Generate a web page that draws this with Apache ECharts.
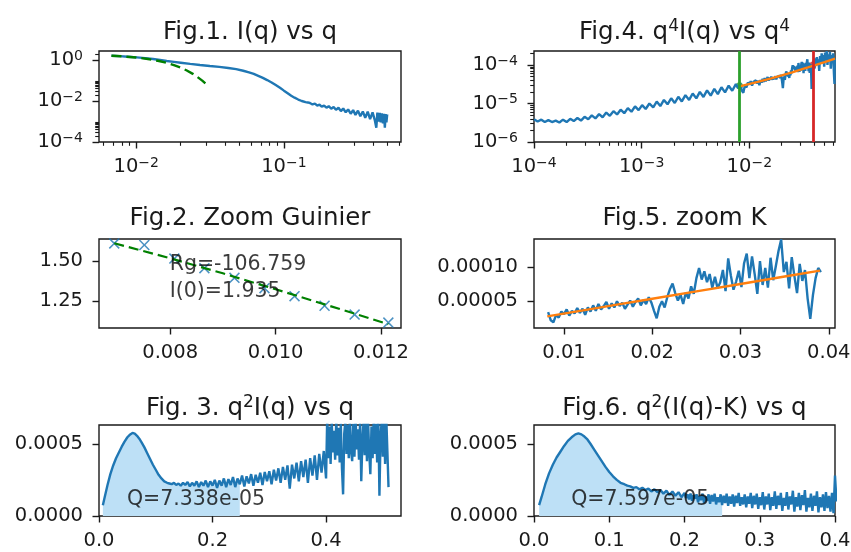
<!DOCTYPE html>
<html><head><meta charset="utf-8">
<script src="https://cdn.jsdelivr.net/npm/echarts@6/dist/echarts.min.js"></script>
<style>html,body{margin:0;padding:0;background:#fff}#c{width:851px;height:552px}</style>
</head><body><div id="c"></div>
<script>
// ---------- DATA ----------
const titles = ['Fig.1. I(q) vs q', 'Fig.4. q{s|4}I(q) vs q{s|4}', 'Fig.2. Zoom Guinier', 'Fig.5. zoom K', 'Fig. 3. q{s|2}I(q) vs q', 'Fig.6. q{s|2}(I(q)-K) vs q'];

// Fig.1 : I(q) vs q (log-log)
const fig1Curve = [[0.0068,1.62],[0.0077,1.55],[0.0088,1.45],[0.0101,1.35],[0.0115,1.24],[0.013,1.12],[0.0145,1.0],[0.0161,0.89],[0.018,0.81],[0.02,0.74],[0.0232,0.65],[0.027,0.57],[0.0315,0.51],[0.0365,0.46],[0.042,0.41],[0.0475,0.36],[0.053,0.30],[0.058,0.25],[0.0625,0.21],[0.067,0.17],[0.072,0.135],[0.077,0.105],[0.0825,0.08],[0.088,0.06],[0.094,0.044],[0.1,0.032],[0.106,0.024],[0.112,0.018],[0.118,0.0145],[0.125,0.0118],[0.132,0.0100],[0.14,0.0088],[0.145,0.0085],
[0.150,0.0080],[0.156,0.0068],[0.162,0.0074],[0.168,0.0060],[0.174,0.0066],[0.180,0.0053],[0.187,0.0060],[0.194,0.0047],[0.201,0.0056],[0.209,0.0042],[0.217,0.0051],[0.225,0.0037],[0.234,0.0047],[0.243,0.0032],[0.252,0.0043],[0.262,0.0028],[0.272,0.0039],[0.283,0.0024],[0.294,0.0036],[0.305,0.0021],[0.317,0.0034],[0.329,0.0018],[0.342,0.0031],[0.355,0.0015],[0.369,0.0030],[0.383,0.0013],[0.398,0.0028],[0.413,0.0011],[0.422,0.0005],[0.429,0.0027],[0.437,0.0010],[0.445,0.0026],[0.452,0.0009],[0.460,0.0025],[0.468,0.0008],[0.476,0.0024],[0.482,0.0005],[0.488,0.0023],[0.494,0.0009],[0.500,0.0022]];
const fig1Guinier = [[0.0068,1.623],[0.008,1.517],[0.01,1.323],[0.012,1.120],[0.014,0.919],[0.016,0.732],[0.018,0.565],[0.02,0.423],[0.022,0.308],[0.024,0.217],[0.026,0.148],[0.028,0.0985],[0.030,0.0634]];

// Fig.2 : Guinier zoom
const fig2Points = [[0.00694,1.61],[0.00751,1.60],[0.00808,1.515],[0.00865,1.455],[0.00922,1.395],[0.00979,1.33],[0.01036,1.28],[0.01093,1.22],[0.0115,1.165],[0.01214,1.115]];
const fig2Fit = [[0.00694,1.611],[0.0080,1.517],[0.0090,1.423],[0.0100,1.323],[0.0110,1.222],[0.01214,1.105]];
const fig2Text = ['Rg=-106.759', 'I(0)=1.935'];
const fig2TextPos = [0.008, 1.27];

// Fig.4 / Fig.5 : q^4 I(q) vs q^4
const k4Data = [[1.00e-4,3.9e-6],[1.08e-4,3.4e-6],[1.17e-4,3.8e-6],[1.26e-4,3.3e-6],[1.36e-4,3.7e-6],[1.47e-4,3.3e-6],[1.59e-4,3.6e-6],[1.72e-4,3.2e-6],[1.86e-4,3.8e-6],[2.01e-4,3.3e-6],[2.17e-4,4.0e-6],[2.34e-4,3.5e-6],[2.53e-4,4.2e-6],[2.73e-4,3.6e-6],[2.95e-4,4.5e-6],[3.19e-4,3.9e-6],[3.44e-4,4.9e-6],[3.72e-4,4.1e-6],[4.02e-4,5.3e-6],[4.34e-4,4.4e-6],[4.69e-4,5.8e-6],[5.06e-4,4.8e-6],[5.47e-4,6.3e-6],[5.91e-4,5.2e-6],[6.38e-4,6.9e-6],[6.89e-4,5.6e-6],[7.44e-4,7.6e-6],[8.04e-4,6.1e-6],[8.68e-4,8.4e-6],[9.37e-4,6.7e-6],[1.01e-3,9.1e-6],[1.09e-3,7.2e-6],[1.18e-3,1.0e-5],[1.28e-3,7.9e-6],[1.38e-3,1.12e-5],[1.49e-3,8.6e-6],[1.61e-3,1.24e-5],[1.74e-3,9.5e-6],[1.88e-3,1.37e-5],[2.03e-3,1.03e-5],[2.19e-3,1.5e-5],[2.36e-3,1.13e-5],[2.55e-3,1.65e-5],[2.76e-3,1.24e-5],[2.98e-3,1.82e-5],[3.22e-3,1.36e-5],[3.47e-3,2.0e-5],[3.75e-3,1.48e-5],[4.05e-3,2.2e-5],[4.38e-3,1.6e-5],[4.73e-3,2.4e-5],[5.10e-3,1.75e-5],[5.51e-3,2.65e-5],[5.95e-3,1.95e-5],[6.43e-3,2.9e-5],[6.94e-3,2.15e-5],[7.50e-3,3.2e-5],[7.90e-3,2.5e-5],
[0.0082,3.4e-5],[0.0085,2.2e-5],[0.0088,1.9e-5],[0.0091,3.0e-5],[0.0094,2.6e-5],[0.0097,3.5e-5],[0.0100,3.1e-5],[0.0103,3.8e-5],[0.0106,2.9e-5],[0.0109,3.6e-5],[0.0112,3.2e-5],[0.0115,4.0e-5],[0.0118,3.3e-5],[0.0121,3.9e-5],[0.0124,3.0e-5],[0.0127,4.1e-5],[0.0130,3.5e-5],[0.0133,4.4e-5],[0.0136,3.6e-5],[0.0139,4.6e-5],[0.0142,3.8e-5],[0.0145,4.3e-5],[0.0148,4.9e-5],[0.0151,3.9e-5],[0.0154,4.7e-5],[0.0157,4.1e-5],[0.0160,5.0e-5],[0.0163,4.3e-5],[0.0166,4.8e-5],[0.0169,3.9e-5],[0.0172,4.5e-5],[0.0175,5.1e-5],[0.0178,4.2e-5],[0.0181,4.9e-5],[0.0184,5.4e-5],[0.0187,4.4e-5],[0.0190,5.2e-5],[0.0193,4.6e-5],[0.0196,5.6e-5],[0.0199,4.8e-5],[0.0202,3.6e-5],[0.0205,2.5e-5],[0.0208,4.2e-5],[0.0211,5.0e-5],[0.0214,4.1e-5],[0.0217,5.6e-5],[0.0220,6.8e-5],[0.0223,7.6e-5],[0.0226,6.2e-5],[0.0229,5.1e-5],[0.0232,6.0e-5],[0.0235,4.6e-5],[0.0238,6.3e-5],[0.0241,5.4e-5],[0.0244,7.2e-5],[0.0247,6.1e-5],[0.0250,8.4e-5],[0.0253,9.9e-5],[0.0256,8.2e-5],[0.0259,9.4e-5],[0.0262,7.8e-5],[0.0265,9.0e-5],[0.0268,7.0e-5],[0.0271,8.6e-5],[0.0274,6.9e-5],[0.0277,7.8e-5],[0.0280,9.6e-5],[0.0283,6.5e-5],[0.0286,1.13e-4],[0.0289,8.8e-5],[0.0292,6.7e-5],[0.0295,7.9e-5],[0.0298,9.5e-5],[0.0301,7.1e-5],[0.0304,1.06e-4],[0.0307,1.20e-4],[0.0310,8.4e-5],[0.0313,1.16e-4],[0.0316,9.0e-5],[0.0319,6.1e-5],[0.0322,1.09e-4],[0.0325,7.4e-5],[0.0328,9.9e-5],[0.0331,7.0e-5],[0.0334,1.14e-4],[0.0337,8.1e-5],[0.0340,1.02e-4],[0.0343,1.24e-4],[0.0346,1.41e-4],[0.0349,9.3e-5],[0.0352,1.08e-4],[0.0355,6.9e-5],[0.0358,1.15e-4],[0.0361,8.7e-5],[0.0364,6.2e-5],[0.0367,1.05e-4],[0.0370,8.0e-5],[0.0373,9.6e-5],[0.0376,5.4e-5],[0.0379,2.4e-5],[0.0382,5.9e-5],[0.0385,8.4e-5],[0.0388,9.9e-5],[0.0391,9.3e-5],
[0.0397,1.3e-4],[0.0403,8.0e-5],[0.0410,1.5e-4],[0.0417,9.5e-5],[0.0424,1.6e-4],[0.0431,1.05e-4],[0.0438,1.4e-4],[0.0446,7.0e-5],[0.0454,1.7e-4],[0.0462,1.1e-4],[0.0470,2.0e-4],[0.0478,1.2e-4],[0.0487,1.8e-4],[0.0496,9.0e-5],[0.0505,2.1e-4],[0.0514,1.3e-4],[0.0523,2.3e-4],[0.0532,1.0e-4],[0.0541,1.9e-4],[0.0551,1.4e-4],[0.0561,2.2e-4],[0.0571,8.0e-5],[0.0581,1.8e-4],[0.0591,1.2e-4],[0.0601,2.0e-4],[0.0611,6.0e-5],[0.0618,3.2e-5],[0.0622,1.5e-4]];
const kFit = [[0.0081,2.78e-5],[0.012,3.63e-5],[0.016,4.5e-5],[0.02,5.37e-5],[0.025,6.46e-5],[0.03,7.55e-5],[0.035,8.64e-5],[0.039,9.51e-5],[0.045,1.08e-4],[0.05,1.19e-4],[0.055,1.30e-4],[0.0625,1.46e-4]];
const kLimits = [0.0081, 0.039];
const kLimitPoints = [[0.0081,2.9e-5],[0.039,1.0e-4]];

// Fig.3 : q^2 I(q) vs q
const fig3Curve = [[0.0068,7.5e-5],[0.010,1.3e-4],[0.015,2.15e-4],[0.020,2.9e-4],[0.025,3.5e-4],[0.030,4.0e-4],[0.035,4.4e-4],[0.040,4.8e-4],[0.045,5.15e-4],[0.050,5.45e-4],[0.055,5.65e-4],[0.059,5.75e-4],[0.063,5.7e-4],[0.067,5.55e-4],[0.071,5.35e-4],[0.075,5.1e-4],[0.080,4.75e-4],[0.085,4.35e-4],[0.090,3.95e-4],[0.095,3.55e-4],[0.100,3.2e-4],[0.105,2.85e-4],[0.110,2.6e-4],[0.115,2.4e-4],[0.120,2.3e-4],[0.124,2.25e-4],
[0.128,2.2e-4],[0.132,2.3e-4],[0.136,2.15e-4],[0.140,2.25e-4],[0.144,2.1e-4],[0.148,2.3e-4],[0.152,2.15e-4],[0.156,2.35e-4],[0.160,2.05e-4],[0.164,2.3e-4],[0.168,2.1e-4],[0.172,2.4e-4],[0.176,2.0e-4],[0.180,2.35e-4],[0.184,2.1e-4],[0.188,2.45e-4],[0.192,2.0e-4],[0.196,2.4e-4],[0.200,2.1e-4],[0.204,2.5e-4],[0.208,1.95e-4],[0.212,2.45e-4],[0.216,2.1e-4],[0.220,2.6e-4],[0.224,2.0e-4],[0.228,2.55e-4],[0.232,2.15e-4],[0.236,2.7e-4],[0.240,2.0e-4],[0.244,2.6e-4],[0.248,2.2e-4],[0.252,2.8e-4],[0.256,2.05e-4],[0.260,2.75e-4],[0.264,2.25e-4],[0.268,2.9e-4],[0.272,2.1e-4],[0.276,2.85e-4],[0.280,2.3e-4],[0.284,3.0e-4],[0.288,2.15e-4],[0.292,3.05e-4],[0.296,2.4e-4],[0.300,3.1e-4],[0.304,2.2e-4],[0.308,3.2e-4],[0.312,2.45e-4],[0.316,3.3e-4],[0.320,2.3e-4],[0.324,3.4e-4],[0.328,2.5e-4],[0.332,3.5e-4],[0.336,1.9e-4],[0.340,3.55e-4],[0.344,2.6e-4],[0.348,3.7e-4],[0.352,2.4e-4],[0.356,3.8e-4],[0.360,2.7e-4],[0.364,3.9e-4],[0.368,2.3e-4],[0.372,4.0e-4],[0.376,2.8e-4],[0.380,4.2e-4],[0.384,2.5e-4],[0.388,4.3e-4],[0.392,3.0e-4],[0.396,4.5e-4],
[0.400,2.6e-4],[0.402,6.8e-4],[0.404,4.0e-4],[0.406,6.2e-4],[0.408,3.6e-4],[0.410,6.5e-4],[0.412,4.4e-4],[0.414,5.9e-4],[0.416,3.9e-4],[0.418,6.7e-4],[0.420,4.2e-4],[0.422,6.1e-4],[0.424,3.7e-4],[0.426,6.4e-4],[0.428,3.3e-4],[0.430,1.5e-4],[0.432,5.7e-4],[0.434,6.6e-4],[0.436,4.3e-4],[0.438,6.3e-4],[0.440,4.0e-4],[0.442,6.9e-4],[0.444,4.5e-4],[0.446,3.8e-4],[0.448,6.4e-4],[0.450,4.1e-4],[0.452,6.8e-4],[0.454,4.6e-4],[0.456,6.0e-4],[0.458,3.9e-4],[0.460,6.7e-4],[0.462,2.4e-4],[0.464,5.2e-4],[0.466,6.5e-4],[0.468,4.2e-4],[0.470,6.9e-4],[0.472,3.8e-4],[0.474,6.6e-4],[0.476,4.4e-4],[0.478,2.9e-4],[0.480,6.2e-4],[0.482,4.0e-4],[0.484,6.8e-4],[0.486,4.3e-4],[0.488,6.4e-4],[0.490,3.7e-4],[0.492,6.9e-4],[0.494,1.4e-4],[0.496,5.5e-4],[0.498,6.6e-4],[0.500,4.1e-4],[0.502,6.7e-4],[0.504,3.6e-4],[0.506,6.9e-4],[0.508,4.5e-4],[0.510,2.0e-4]];
const fig3Text = 'Q=7.338e-05';

// Fig.6 : q^2 (I(q)-K) vs q
const fig6Curve = [[0.0068,7.5e-5],[0.010,1.3e-4],[0.015,2.2e-4],[0.020,2.95e-4],[0.025,3.55e-4],[0.030,4.05e-4],[0.035,4.45e-4],[0.040,4.85e-4],[0.045,5.2e-4],[0.050,5.45e-4],[0.055,5.65e-4],[0.059,5.72e-4],[0.063,5.65e-4],[0.067,5.5e-4],[0.071,5.3e-4],[0.075,5.0e-4],[0.080,4.6e-4],[0.085,4.2e-4],[0.090,3.8e-4],[0.095,3.4e-4],[0.100,3.05e-4],[0.105,2.75e-4],[0.110,2.5e-4],[0.115,2.3e-4],[0.120,2.2e-4],[0.124,2.1e-4],
[0.128,2.05e-4],[0.132,1.95e-4],[0.136,2.0e-4],[0.140,1.85e-4],[0.144,1.95e-4],[0.148,1.8e-4],[0.152,1.9e-4],[0.156,1.7e-4],[0.160,1.85e-4],[0.164,1.65e-4],[0.168,1.8e-4],[0.172,1.55e-4],[0.176,1.75e-4],[0.180,1.45e-4],[0.184,1.7e-4],[0.188,1.4e-4],[0.192,1.65e-4],[0.196,1.3e-4],
[0.200,1.6e-4],[0.202,1.25e-4],[0.204,1.5e-4],[0.206,1.15e-4],[0.208,1.55e-4],[0.210,1.05e-4],[0.212,1.45e-4],[0.214,1.2e-4],[0.216,1.5e-4],[0.218,0.95e-4],[0.220,1.4e-4],[0.222,1.1e-4],[0.224,1.55e-4],[0.226,0.9e-4],[0.228,1.35e-4],[0.230,1.05e-4],[0.232,1.5e-4],[0.234,0.85e-4],[0.236,1.45e-4],[0.238,1.0e-4],[0.240,1.55e-4],[0.242,0.8e-4],[0.244,1.3e-4],[0.246,0.95e-4],[0.248,1.5e-4],[0.250,0.75e-4],[0.252,1.4e-4],[0.254,0.9e-4],[0.256,1.55e-4],[0.258,0.7e-4],[0.260,1.35e-4],[0.262,0.85e-4],[0.264,1.5e-4],[0.266,0.65e-4],[0.268,1.4e-4],[0.270,0.9e-4],[0.272,1.6e-4],[0.274,0.7e-4],[0.276,1.3e-4],[0.278,0.8e-4],[0.280,1.5e-4],[0.282,0.6e-4],[0.284,1.35e-4],[0.286,0.85e-4],[0.288,1.6e-4],[0.290,0.55e-4],[0.292,1.4e-4],[0.294,0.8e-4],[0.296,1.55e-4],[0.298,0.5e-4],[0.300,1.3e-4],[0.302,0.75e-4],[0.304,1.65e-4],[0.306,0.45e-4],[0.308,1.35e-4],[0.310,0.8e-4],[0.312,1.55e-4],[0.314,0.4e-4],[0.316,1.3e-4],[0.318,0.7e-4],[0.320,1.7e-4],[0.322,0.5e-4],[0.324,1.4e-4],[0.326,0.75e-4],[0.328,1.6e-4],[0.330,0.35e-4],[0.332,1.25e-4],[0.334,0.7e-4],[0.336,1.65e-4],[0.338,0.45e-4],[0.340,1.35e-4],[0.342,0.8e-4],[0.344,1.75e-4],[0.346,0.3e-4],[0.348,1.3e-4],[0.350,0.65e-4],[0.352,1.6e-4],[0.354,0.4e-4],[0.356,1.45e-4],[0.358,0.75e-4],[0.360,1.8e-4],[0.362,0.3e-4],[0.364,1.25e-4],[0.366,0.6e-4],[0.368,1.55e-4],[0.370,0.35e-4],[0.372,1.4e-4],[0.374,0.7e-4],[0.376,1.7e-4],[0.378,0.25e-4],[0.380,1.3e-4],[0.382,0.6e-4],[0.384,1.5e-4],[0.386,0.35e-4],[0.388,1.65e-4],[0.390,0.55e-4],[0.392,1.4e-4],[0.394,0.3e-4],[0.396,1.6e-4],[0.398,0.2e-4],[0.400,2.8e-4],[0.402,1.0e-4]];
const fig6Text = 'Q=7.597e-05';
const qTextPos = [0.05, 0.0001];
const fillLimitQ = 0.25;

// tick values
const fig1XTicks = [0.01, 0.1], fig1YTicks = [1e-4, 1e-2, 1];
const fig1XMinor = [0.006,0.007,0.008,0.009,0.02,0.03,0.04,0.05,0.06,0.07,0.08,0.09,0.2,0.3,0.4,0.5,0.6];
const fig1YMinor = [2e-4,3e-4,4e-4,5e-4,6e-4,7e-4,8e-4,9e-4,0.02,0.03,0.04,0.05,0.06,0.07,0.08,0.09,2];
const fig4XTicks = [1e-4, 1e-3, 1e-2], fig4YTicks = [1e-6, 1e-5, 1e-4];
const fig4XMinor = [2e-4,3e-4,4e-4,5e-4,6e-4,7e-4,8e-4,9e-4,2e-3,3e-3,4e-3,5e-3,6e-3,7e-3,8e-3,9e-3,0.02,0.03,0.04,0.05,0.06];
const fig4YMinor = [2e-6,3e-6,4e-6,5e-6,6e-6,7e-6,8e-6,9e-6,2e-5,3e-5,4e-5,5e-5,6e-5,7e-5,8e-5,9e-5,2e-4];
const fig2XTicks = [0.008, 0.010, 0.012], fig2YTicks = [1.25, 1.50];
const fig5XTicks = [0.01, 0.02, 0.03, 0.04], fig5YTicks = [0.00005, 0.00010];
const fig3XTicks = [0.0, 0.2, 0.4], fig6XTicks = [0.0, 0.1, 0.2, 0.3, 0.4], fig36YTicks = [0.0, 0.0005];

// ---------- CHART ----------
const FONT = 'DejaVu Sans';
const C0 = '#1f77b4', C1 = '#ff7f0e', C2 = '#2ca02c', C3 = '#d62728', GD = '#008000', FILL = '#bde0f6';
const INK = '#1a1a1a';
function logFmt(v) { const e = Math.round(Math.log10(v)); return '10{s|' + String(e).replace('-', '\u2212') + '}'; }
function fixed(n) { return v => Number(v).toFixed(n); }

const grids = [
  {left: 99, top: 51, width: 302, height: 91},
  {left: 534, top: 51, width: 301, height: 91},
  {left: 99, top: 239, width: 302, height: 89},
  {left: 534, top: 239, width: 301, height: 89},
  {left: 99, top: 425, width: 302, height: 91},
  {left: 534, top: 425, width: 301, height: 91}
].map(g => Object.assign(g, {show: true, borderColor: INK, borderWidth: 1.4, backgroundColor: 'rgba(0,0,0,0)', containLabel: false, outerBoundsMode: 'none'}));

function axis(dim, gi, type, min, max, ticks, fmt) {
  const a = {type, gridIndex: gi, min, max, position: dim === 'x' ? 'bottom' : 'left',
    axisLine: {show: false}, splitLine: {show: false}, minorTick: {show: false}, minorSplitLine: {show: false},
    axisTick: {show: true, inside: false, length: 6.5, customValues: ticks, lineStyle: {color: INK, width: 1.4}},
    axisLabel: {show: true, customValues: ticks, formatter: fmt, fontFamily: FONT, fontSize: 19.5, color: INK, lineHeight: 22,
      margin: dim === 'x' ? 14 : 16, hideOverlap: false, showMinLabel: true, showMaxLabel: true,
      rich: {s: {fontSize: 14, lineHeight: 14, verticalAlign: 'top', fontFamily: FONT, color: INK}}}};
  if (type === 'log') a.logBase = 10;
  return a;
}
function minorAxis(dim, gi, min, max, ticks) {
  return {type: 'log', logBase: 10, gridIndex: gi, min, max, position: dim === 'x' ? 'bottom' : 'left',
    axisLine: {show: false}, splitLine: {show: false}, axisLabel: {show: false},
    axisTick: {show: true, inside: false, length: 3.8, customValues: ticks, lineStyle: {color: INK, width: 1.1}}};
}

const xAxes = [
  axis('x', 0, 'log', 0.0056, 0.62, fig1XTicks, logFmt),
  axis('x', 1, 'log', 1e-4, 0.0625, fig4XTicks, logFmt),
  axis('x', 2, 'value', 0.00665, 0.01238, fig2XTicks, fixed(3)),
  axis('x', 3, 'value', 0.0066, 0.0407, fig5XTicks, fixed(2)),
  axis('x', 4, 'value', 0, 0.532, fig3XTicks, fixed(1)),
  axis('x', 5, 'value', 0, 0.4, fig6XTicks, fixed(1)),
  minorAxis('x', 0, 0.0056, 0.62, fig1XMinor),
  minorAxis('x', 1, 1e-4, 0.0625, fig4XMinor)
];
const yAxes = [
  axis('y', 0, 'log', 1e-4, 2.75, fig1YTicks, logFmt),
  axis('y', 1, 'log', 1e-6, 2.31e-4, fig4YTicks, logFmt),
  axis('y', 2, 'value', 1.081, 1.6375, fig2YTicks, fixed(2)),
  axis('y', 3, 'value', 1.07e-5, 1.416e-4, fig5YTicks, fixed(5)),
  axis('y', 4, 'value', 0, 0.00063, fig36YTicks, fixed(4)),
  axis('y', 5, 'value', 0, 0.00063, fig36YTicks, fixed(4)),
  minorAxis('y', 0, 1e-4, 2.75, fig1YMinor),
  minorAxis('y', 1, 1e-6, 2.31e-4, fig4YMinor)
];

const centers = [250, 684.5, 250, 684.5, 250, 684.5];
const titleTops = [18, 18, 204, 204, 394, 394];
const titleOpts = titles.map((t, i) => ({text: t, left: centers[i], top: titleTops[i], textAlign: 'center', padding: 0,
  textStyle: {fontFamily: FONT, fontSize: 24.5, lineHeight: 30, fontWeight: 'normal', color: INK,
    rich: {s: {fontSize: 17, lineHeight: 17, verticalAlign: 'top', fontFamily: FONT, color: INK}}}}));

function line(gi, data, color, width, extra) {
  return Object.assign({type: 'line', xAxisIndex: gi, yAxisIndex: gi, data, showSymbol: false, symbol: 'none',
    clip: true, silent: true, lineStyle: {color, width}}, extra || {});
}
function textLabel(gi, pos, txt, offY) {
  return {type: 'scatter', xAxisIndex: gi, yAxisIndex: gi, data: [pos], symbolSize: 1, silent: true, z: 10,
    itemStyle: {color: 'rgba(0,0,0,0)'},
    label: {show: true, position: [0, 0], align: 'left', verticalAlign: 'bottom', offset: [0, offY],
      formatter: txt, fontFamily: FONT, fontSize: 20.5, lineHeight: 27, color: '#0a0a0a'}};
}
const XMARK = 'path://M0,1 L1,0 L5,4 L9,0 L10,1 L6,5 L10,9 L9,10 L5,6 L1,10 L0,9 L4,5 Z';

const series = [
  // Fig.1
  line(0, fig1Curve, C0, 2.4),
  line(0, fig1Guinier, GD, 2.4, {lineStyle: {color: GD, width: 2.4, type: [10, 5]}}),
  // Fig.4
  line(1, k4Data, C0, 2.4),
  line(1, kFit, C1, 2.4, {markLine: {silent: true, precision: 8, symbol: ['none', 'none'], label: {show: false},
    data: [{xAxis: kLimits[0], lineStyle: {color: C2, width: 2.8, type: 'solid'}},
           {xAxis: kLimits[1], lineStyle: {color: C3, width: 2.8, type: 'solid'}}]}}),
  {type: 'scatter', xAxisIndex: 1, yAxisIndex: 1, data: [kLimitPoints[0]], symbolSize: 7, silent: true, itemStyle: {color: C2}},
  {type: 'scatter', xAxisIndex: 1, yAxisIndex: 1, data: [kLimitPoints[1]], symbolSize: 7, silent: true, itemStyle: {color: C3}},
  // Fig.2
  line(2, fig2Fit, GD, 2.2, {lineStyle: {color: GD, width: 2.2, type: [10, 5]}}),
  {type: 'scatter', xAxisIndex: 2, yAxisIndex: 2, data: fig2Points, symbol: XMARK, symbolSize: 11, silent: true, itemStyle: {color: C0}},
  textLabel(2, fig2TextPos, fig2Text.join('\n'), 8),
  // Fig.5
  line(3, k4Data.filter(p => p[0] >= kLimits[0] && p[0] <= kLimits[1] + 0.0002), C0, 2.4),
  line(3, kFit.filter(p => p[0] <= kLimits[1]), C1, 2.4),
  // Fig.3
  line(4, fig3Curve.filter(p => p[0] <= fillLimitQ), FILL, 0, {areaStyle: {color: FILL, opacity: 1}}),
  line(4, fig3Curve, C0, 2.4),
  textLabel(4, qTextPos, fig3Text, 12),
  // Fig.6
  line(5, fig6Curve.filter(p => p[0] <= fillLimitQ), FILL, 0, {areaStyle: {color: FILL, opacity: 1}}),
  line(5, fig6Curve, C0, 2.4),
  textLabel(5, qTextPos, fig6Text, 12)
];

const chart = echarts.init(document.getElementById('c'), null, {renderer: 'canvas'});
chart.setOption({
  animation: false,
  backgroundColor: '#fff',
  textStyle: {fontFamily: FONT},
  title: titleOpts,
  grid: grids,
  xAxis: xAxes,
  yAxis: yAxes,
  series
});
</script></body></html>
